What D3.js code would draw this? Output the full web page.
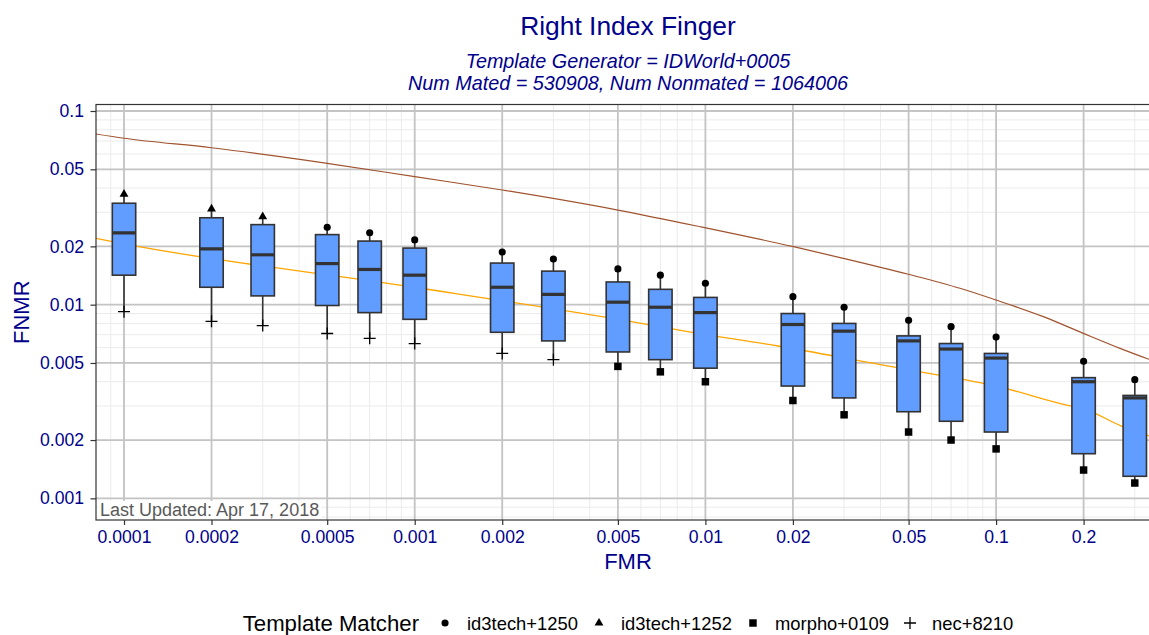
<!DOCTYPE html>
<html>
<head>
<meta charset="utf-8">
<script src="https://cdn.jsdelivr.net/npm/d3@7"></script>
<style>
  body { margin: 0; background: #fff; }
  svg { display: block; font-family: "Liberation Sans", Arial, Helvetica, sans-serif; }
</style>
</head>
<body>
<svg id="vis" width="1149" height="635"></svg>
<script>
// ---- data ----
const fmrLevels = [0.0001, 0.0002, 0.0003, 0.0005, 0.0007, 0.001, 0.002, 0.003, 0.005, 0.007,
                   0.01, 0.02, 0.03, 0.05, 0.07, 0.1, 0.2, 0.3];
const upperVals  = [0.0372, 0.0312, 0.0285, 0.0251, 0.0235, 0.0216, 0.0187, 0.0172, 0.0153, 0.0142,
                    0.0129, 0.0110, 0.0097, 0.0083, 0.0077, 0.0068, 0.0051, 0.0041];
const q3Vals     = [0.0334, 0.0281, 0.0259, 0.0230, 0.0213, 0.0196, 0.0164, 0.0149, 0.0131, 0.0120,
                    0.0109, 0.0090, 0.0080, 0.0069, 0.0063, 0.0056, 0.0042, 0.0034];
const medianVals = [0.0235, 0.0194, 0.0181, 0.0163, 0.0152, 0.0142, 0.0123, 0.0113, 0.0103, 0.0097,
                    0.0091, 0.0079, 0.0073, 0.0065, 0.0059, 0.0053, 0.0040, 0.0033];
const q1Vals     = [0.0142, 0.0123, 0.0111, 0.0099, 0.0091, 0.0084, 0.0072, 0.0065, 0.0057, 0.0052,
                    0.0047, 0.0038, 0.0033, 0.0028, 0.0025, 0.0022, 0.0017, 0.0013];
const lowerVals  = [0.0092, 0.0082, 0.0078, 0.0071, 0.0067, 0.0063, 0.0056, 0.0052, 0.0048, 0.0045,
                    0.0040, 0.0032, 0.0027, 0.0022, 0.0020, 0.0018, 0.0014, 0.0012];
const topMatcher = ["id3tech+1252", "id3tech+1252", "id3tech+1252", "id3tech+1250", "id3tech+1250",
                    "id3tech+1250", "id3tech+1250", "id3tech+1250", "id3tech+1250", "id3tech+1250",
                    "id3tech+1250", "id3tech+1250", "id3tech+1250", "id3tech+1250", "id3tech+1250",
                    "id3tech+1250", "id3tech+1250", "id3tech+1250"];
const bottomMatcher = ["nec+8210", "nec+8210", "nec+8210", "nec+8210", "nec+8210", "nec+8210",
                       "nec+8210", "nec+8210", "morpho+0109", "morpho+0109", "morpho+0109",
                       "morpho+0109", "morpho+0109", "morpho+0109", "morpho+0109", "morpho+0109",
                       "morpho+0109", "morpho+0109"];
const matchers = ["id3tech+1250", "id3tech+1252", "morpho+0109", "nec+8210"];

const orangeFmr  = [0.00008, 0.0001, 0.001, 0.0055, 0.009, 0.018, 0.04, 0.055, 0.1, 0.18, 0.2, 0.27, 0.336];
const orangeFnmr = [0.0220, 0.0206, 0.0123, 0.0082, 0.0072, 0.0061, 0.0049, 0.0045, 0.0038, 0.0030, 0.0029, 0.00236, 0.0021];
const brownFmr   = [0.00008, 0.0001, 0.0002, 0.0005, 0.001, 0.002, 0.005, 0.0096, 0.0201, 0.0298, 0.0499, 0.0751, 0.0999, 0.1454, 0.1995, 0.2668, 0.336];
const brownFnmr  = [0.0761, 0.0723, 0.0646, 0.0537, 0.0458, 0.0391, 0.0308, 0.02526, 0.01992, 0.01735, 0.01435, 0.01215, 0.01057, 0.00867, 0.00711, 0.00595, 0.00522];

const xTicks = [0.0001, 0.0002, 0.0005, 0.001, 0.002, 0.005, 0.01, 0.02, 0.05, 0.1, 0.2];
const xTickLabels = ["0.0001", "0.0002", "0.0005", "0.001", "0.002", "0.005", "0.01", "0.02", "0.05", "0.1", "0.2"];
const yTicks = [0.001, 0.002, 0.005, 0.01, 0.02, 0.05, 0.1];
const yTickLabels = ["0.001", "0.002", "0.005", "0.01", "0.02", "0.05", "0.1"];

const titleText = "Right Index Finger";
const subtitleLines = ["Template Generator = IDWorld+0005", "Num Mated = 530908, Num Nonmated = 1064006"];
const noteText = "Last Updated: Apr 17, 2018";

// ---- layout ----
const blue = "#00008B";
const panel = {left: 96, top: 104.5, right: 1160, bottom: 520};
const svg = d3.select("#vis");

const x = d3.scaleLog().domain([8.01e-5, 0.3663]).range([panel.left, panel.right]);
const y = d3.scaleLog().domain([0.000773, 0.10803]).range([panel.bottom, panel.top]);

svg.append("defs").append("clipPath").attr("id", "clip")
  .append("rect")
  .attr("x", panel.left).attr("y", panel.top)
  .attr("width", panel.right - panel.left).attr("height", panel.bottom - panel.top);

// minor grid: 1..9 x 10^k
const minorX = [], minorY = [];
for (let k = -5; k <= 0; k++) {
  for (let d = 1; d <= 9; d++) {
    const v = +(d * Math.pow(10, k)).toPrecision(6);
    if (v >= x.domain()[0] && v <= x.domain()[1]) minorX.push(v);
    if (v >= y.domain()[0] && v <= y.domain()[1]) minorY.push(v);
  }
}

const grid = svg.append("g");
grid.selectAll(".mx").data(minorX).join("line")
  .attr("x1", d => x(d)).attr("x2", d => x(d))
  .attr("y1", panel.top).attr("y2", panel.bottom)
  .attr("stroke", "#ebebeb").attr("stroke-width", 1);
grid.selectAll(".my").data(minorY).join("line")
  .attr("y1", d => y(d)).attr("y2", d => y(d))
  .attr("x1", panel.left).attr("x2", panel.right)
  .attr("stroke", "#ebebeb").attr("stroke-width", 1);
grid.selectAll(".gx").data(xTicks).join("line")
  .attr("x1", d => x(d)).attr("x2", d => x(d))
  .attr("y1", panel.top).attr("y2", panel.bottom)
  .attr("stroke", "#c4c4c4").attr("stroke-width", 1.8);
grid.selectAll(".gy").data(yTicks).join("line")
  .attr("y1", d => y(d)).attr("y2", d => y(d))
  .attr("x1", panel.left).attr("x2", panel.right)
  .attr("stroke", "#c4c4c4").attr("stroke-width", 1.8);

// reference curves
const line = d3.line().x(d => x(d[0])).y(d => y(d[1])).curve(d3.curveMonotoneX);
const plotArea = svg.append("g").attr("clip-path", "url(#clip)");
plotArea.append("path")
  .datum(brownFmr.map((f, i) => [f, brownFnmr[i]]))
  .attr("fill", "none").attr("stroke", "#A0522D").attr("stroke-width", 1.2)
  .attr("d", line);
plotArea.append("path")
  .datum(orangeFmr.map((f, i) => [f, orangeFnmr[i]]))
  .attr("fill", "none").attr("stroke", "#FFA500").attr("stroke-width", 1.3)
  .attr("d", line);

// boxes
const boxes = fmrLevels.map((f, i) => ({
  f, hi: upperVals[i], q3: q3Vals[i], med: medianVals[i], q1: q1Vals[i], lo: lowerVals[i],
  top: topMatcher[i], bottom: bottomMatcher[i]
}));
const halfW = 11.7;
const boxG = plotArea.append("g");
boxG.selectAll(".wu").data(boxes).join("line")
  .attr("x1", d => x(d.f)).attr("x2", d => x(d.f))
  .attr("y1", d => y(d.hi)).attr("y2", d => y(d.q3))
  .attr("stroke", "#333").attr("stroke-width", 1.6);
boxG.selectAll(".wl").data(boxes).join("line")
  .attr("x1", d => x(d.f)).attr("x2", d => x(d.f))
  .attr("y1", d => y(d.q1)).attr("y2", d => y(d.lo))
  .attr("stroke", "#333").attr("stroke-width", 1.6);
boxG.selectAll("rect").data(boxes).join("rect")
  .attr("x", d => x(d.f) - halfW).attr("width", halfW * 2)
  .attr("y", d => y(d.q3)).attr("height", d => y(d.q1) - y(d.q3))
  .attr("fill", "#619CFF").attr("stroke", "#333").attr("stroke-width", 1.6);
boxG.selectAll(".med").data(boxes).join("line")
  .attr("x1", d => x(d.f) - halfW).attr("x2", d => x(d.f) + halfW)
  .attr("y1", d => y(d.med)).attr("y2", d => y(d.med))
  .attr("stroke", "#333").attr("stroke-width", 3.2);

// point shapes per matcher
function shapePath(m, scale) {
  const s = scale || 1;
  if (m === "id3tech+1250") return d3.symbol(d3.symbolCircle, 40 * s)();
  if (m === "id3tech+1252") return d3.symbol(d3.symbolTriangle, 34 * s)();
  if (m === "morpho+0109") return d3.symbol(d3.symbolSquare, 56 * s)();
  const a = 6 * Math.sqrt(s);
  return `M${-a},0H${a}M0,${-a}V${a}`;
}
function drawPoint(sel, m) {
  sel.attr("d", shapePath(m))
    .attr("fill", m === "nec+8210" ? "none" : "#000")
    .attr("stroke", "#000")
    .attr("stroke-width", m === "nec+8210" ? 1.3 : 0);
}
const ptG = svg.append("g");
boxes.forEach(b => {
  ptG.append("path").attr("transform", `translate(${x(b.f)},${y(b.hi)})`).call(drawPoint, b.top);
  ptG.append("path").attr("transform", `translate(${x(b.f)},${y(b.lo)})`).call(drawPoint, b.bottom);
});

// note label
const note = svg.append("g");
const noteRect = note.append("rect").attr("fill", "#fff");
const noteTxt = note.append("text")
  .attr("x", panel.left + 4).attr("y", panel.bottom - 4)
  .attr("font-size", 18).attr("fill", "#595959").text(noteText);
const nb = noteTxt.node().getBBox();
noteRect.attr("x", nb.x - 2).attr("y", nb.y + 1).attr("width", nb.width + 4).attr("height", panel.bottom - nb.y - 1);

// panel border
svg.append("rect")
  .attr("x", panel.left).attr("y", panel.top)
  .attr("width", panel.right - panel.left).attr("height", panel.bottom - panel.top)
  .attr("fill", "none").attr("stroke", "#333").attr("stroke-width", 1.2);

// axes
const xAxis = svg.append("g").attr("transform", `translate(0,${panel.bottom})`)
  .call(d3.axisBottom(x).tickValues(xTicks).tickFormat((d, i) => xTickLabels[i]).tickSize(5).tickPadding(5.5));
const yAxis = svg.append("g").attr("transform", `translate(${panel.left},0)`)
  .call(d3.axisLeft(y).tickValues(yTicks).tickFormat((d, i) => yTickLabels[i]).tickSize(5.5).tickPadding(6.5));
[xAxis, yAxis].forEach(a => {
  a.select(".domain").remove();
  a.selectAll(".tick line").attr("stroke", "#333").attr("stroke-width", 1.2);
  a.selectAll(".tick text").attr("fill", blue).attr("font-size", 17.6)
    .attr("font-family", "\"Liberation Sans\", Arial, sans-serif");
});

// titles
const cx = (panel.left + panel.right) / 2;
svg.append("text").attr("x", cx).attr("y", 35).attr("text-anchor", "middle")
  .attr("font-size", 26.4).attr("fill", blue).text(titleText);
subtitleLines.forEach((t, i) => {
  svg.append("text").attr("x", cx).attr("y", 68 + i * 22.4).attr("text-anchor", "middle")
    .attr("font-size", 19.8).attr("font-style", "italic").attr("fill", blue).text(t);
});
svg.append("text").attr("x", cx).attr("y", 569).attr("text-anchor", "middle")
  .attr("font-size", 22).attr("fill", blue).text("FMR");
svg.append("text").attr("transform", `translate(29,${(panel.top + panel.bottom) / 2}) rotate(-90)`)
  .attr("text-anchor", "middle").attr("font-size", 22).attr("fill", blue).text("FNMR");

// legend
const legend = svg.append("g");
const legTitle = legend.append("text").attr("y", 631).attr("font-size", 22.2).attr("fill", "#000").text("Template Matcher");
let cursor = legTitle.node().getComputedTextLength() + 26;
matchers.forEach(m => {
  legend.append("path").attr("transform", `translate(${cursor},623)`).call(drawPoint, m);
  const lab = legend.append("text").attr("x", cursor + 22).attr("y", 629.5)
    .attr("font-size", 18.4).attr("fill", "#000").text(m);
  cursor += 22 + lab.node().getComputedTextLength() + 21;
});
const legW = cursor - 21;
legend.attr("transform", `translate(${cx - legW / 2},0)`);
</script>
</body>
</html>
